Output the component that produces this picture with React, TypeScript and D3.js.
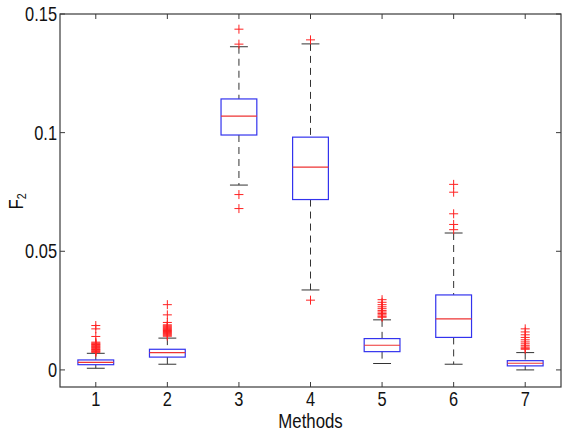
import React from "react";
import * as d3 from "d3";

const methods = [1, 2, 3, 4, 5, 6, 7];
const whiskerLow = [0.0007, 0.0024, 0.0779, 0.0337, 0.0027, 0.0024, 0.0];
const q1 = [0.0022, 0.0054, 0.099, 0.0718, 0.0077, 0.0137, 0.0017];
const median = [0.0032, 0.0073, 0.107, 0.0855, 0.0104, 0.0215, 0.0028];
const q3 = [0.0042, 0.0087, 0.1142, 0.0981, 0.0132, 0.0316, 0.0039];
const whiskerHigh = [0.007, 0.0134, 0.1362, 0.1374, 0.0211, 0.0577, 0.0073];
const outliers = [
  [0.0187, 0.0173, 0.0141, 0.0117, 0.0113, 0.011, 0.0107, 0.0104, 0.0101, 0.0098, 0.0095, 0.0092, 0.0089, 0.0086, 0.0083, 0.008, 0.0077, 0.0074],
  [0.0275, 0.0232, 0.02, 0.019, 0.0186, 0.0182, 0.0178, 0.0174, 0.017, 0.0166, 0.0162, 0.0158, 0.0154, 0.015, 0.0146, 0.0142],
  [0.1436, 0.1373, 0.0739, 0.068],
  [0.1391, 0.0294],
  [0.0296, 0.0285, 0.0275, 0.0266, 0.0258, 0.025, 0.0244, 0.0238, 0.0232, 0.0226, 0.0222],
  [0.0782, 0.0749, 0.0658, 0.0613, 0.0591],
  [0.0173, 0.016, 0.0148, 0.0137, 0.0127, 0.0118, 0.011, 0.0102, 0.0096, 0.0091, 0.0087],
];
const yTicks = [0, 0.05, 0.1, 0.15];
const yTickLabels = ["0", "0.05", "0.1", "0.15"];

const W = 570, H = 436;
const L = 60, R = 561, T = 14, B = 387;
const SX = 0.82;

export default function App() {
  const x = d3.scaleLinear().domain([0.5, 7.5]).range([L, R]);
  const y = d3.scaleLinear().domain([-0.0072, 0.15]).range([B, T]);
  const boxW = x(1.25) - x(1);
  const capW = x(1.125) - x(1);
  const axisColor = "#3a3a3a";
  const font = "'Liberation Sans', Arial, sans-serif";
  const tickLen = 5;
  return (
    <svg width={W} height={H} style={{ position: "absolute", left: 0, top: 0, background: "#fff" }}>
      <rect x={0} y={0} width={W} height={H} fill="#fff" />
      {methods.map((m, i) => {
        const cx = x(m);
        return (
          <g key={m}>
            <line x1={cx} x2={cx} y1={y(whiskerHigh[i])} y2={y(q3[i])} stroke="#333" strokeWidth={1} strokeDasharray="7,5" />
            <line x1={cx} x2={cx} y1={y(q1[i])} y2={y(whiskerLow[i])} stroke="#333" strokeWidth={1} strokeDasharray="7,5" />
            <line x1={cx - capW} x2={cx + capW} y1={y(whiskerHigh[i])} y2={y(whiskerHigh[i])} stroke="#333" strokeWidth={1} />
            <line x1={cx - capW} x2={cx + capW} y1={y(whiskerLow[i])} y2={y(whiskerLow[i])} stroke="#333" strokeWidth={1} />
            <rect x={cx - boxW} y={y(q3[i])} width={2 * boxW} height={y(q1[i]) - y(q3[i])} fill="none" stroke="#3333ee" strokeWidth={1.2} />
            <line x1={cx - boxW} x2={cx + boxW} y1={y(median[i])} y2={y(median[i])} stroke="#ee3333" strokeWidth={1.2} />
            {outliers[i].map((v, j) => (
              <g key={j} stroke="#ff2222" strokeWidth={1}>
                <line x1={cx - 4.5} x2={cx + 4.5} y1={y(v)} y2={y(v)} />
                <line x1={cx} x2={cx} y1={y(v) - 4.5} y2={y(v) + 4.5} />
              </g>
            ))}
          </g>
        );
      })}
      <rect x={L} y={T} width={R - L} height={B - T} fill="none" stroke={axisColor} strokeWidth={1.2} />
      {yTicks.map((t, i) => (
        <g key={t}>
          <line x1={L} x2={L + tickLen} y1={y(t)} y2={y(t)} stroke={axisColor} />
          <line x1={R} x2={R - tickLen} y1={y(t)} y2={y(t)} stroke={axisColor} />
          <text transform={`translate(${L - 3}, ${y(t) + 7}) scale(${SX}, 1)`} textAnchor="end" fontFamily={font} fontSize={20} fill="#111">
            {yTickLabels[i]}
          </text>
        </g>
      ))}
      {methods.map((m) => (
        <g key={m}>
          <line x1={x(m)} x2={x(m)} y1={B} y2={B - tickLen} stroke={axisColor} />
          <line x1={x(m)} x2={x(m)} y1={T} y2={T + tickLen} stroke={axisColor} />
          <text transform={`translate(${x(m)}, 406) scale(${SX}, 1)`} textAnchor="middle" fontFamily={font} fontSize={20} fill="#111">
            {m}
          </text>
        </g>
      ))}
      <text transform={`translate(${(L + R) / 2}, 428) scale(${SX}, 1)`} textAnchor="middle" fontFamily={font} fontSize={20.5} fill="#111">
        Methods
      </text>
      <text transform={`translate(23, ${(T + B) / 2 + 1}) rotate(-90) scale(${SX}, 1)`} textAnchor="middle" fontFamily={font} fontSize={20.5} fill="#111">
        F<tspan fontSize={13} dy={3}>2</tspan>
      </text>
    </svg>
  );
}
